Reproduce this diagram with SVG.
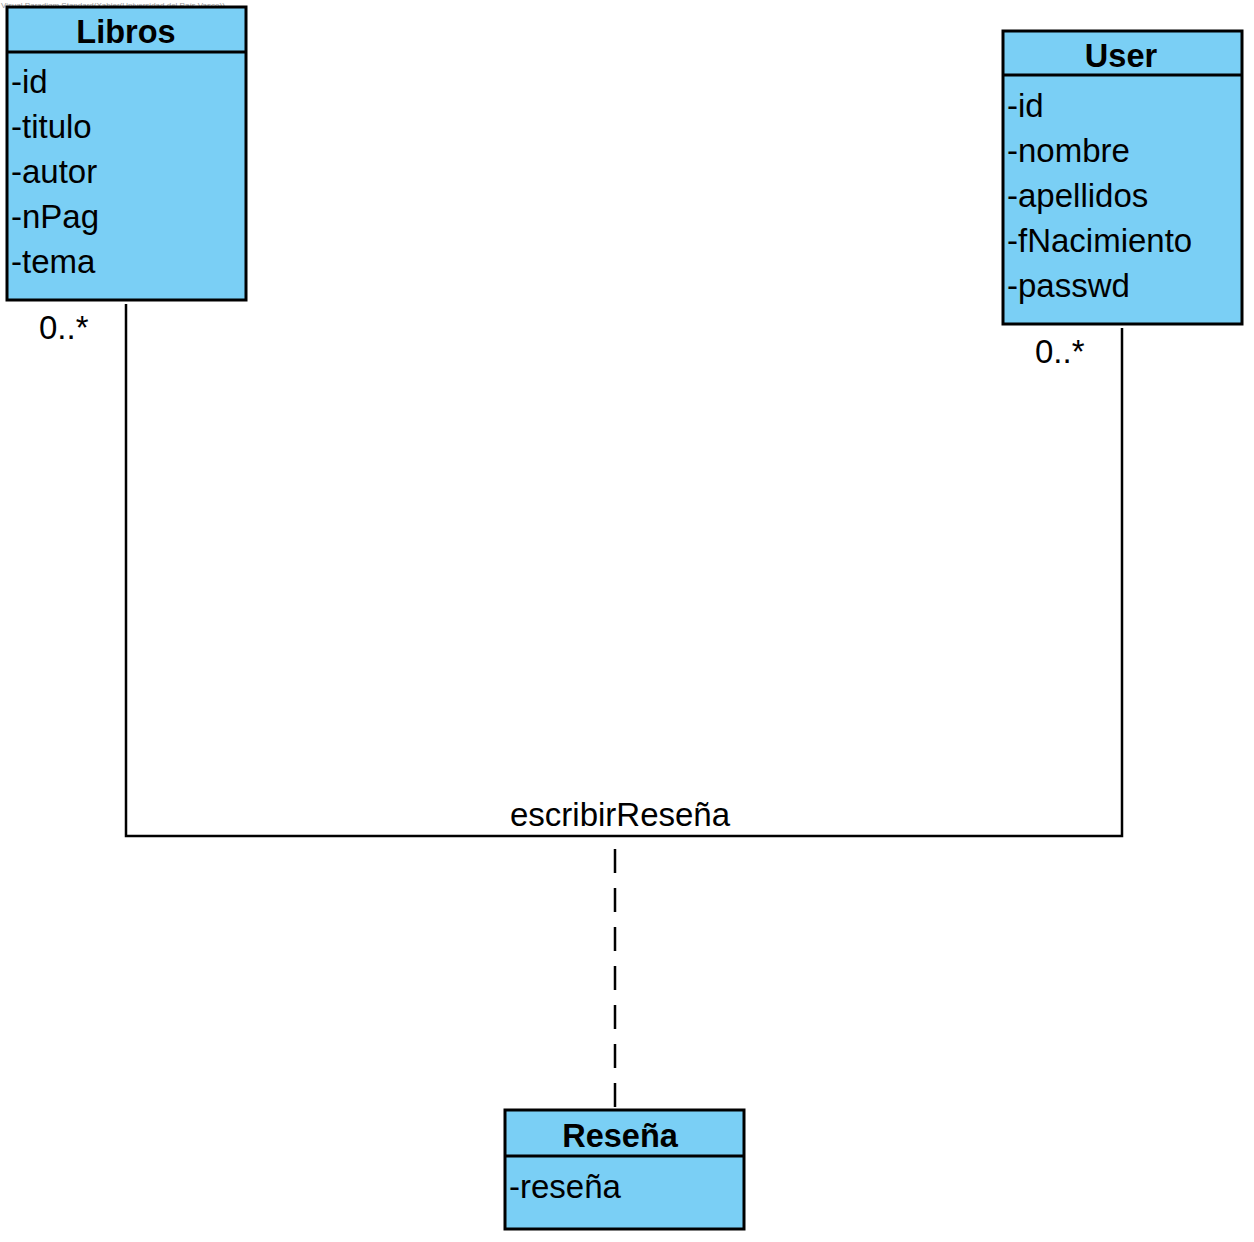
<svg xmlns="http://www.w3.org/2000/svg" width="1254" height="1242" viewBox="0 0 1254 1242">
<style>
.box{fill:#7acff5;stroke:#000;stroke-width:3}
.div{stroke:#000;stroke-width:3}
.t{font-family:"Liberation Sans",Arial,sans-serif;font-size:32.5px;font-weight:bold;text-anchor:middle;fill:#000}
.a{font-family:"Liberation Sans",Arial,sans-serif;font-size:33px;fill:#000}
.conn{fill:none;stroke:#000;stroke-width:2.5}
.wm{font-family:"Liberation Sans",Arial,sans-serif;font-size:8px;fill:#999}
</style>
<rect width="1254" height="1242" fill="#fff"/>
<text class="wm" x="1" y="8">Visual Paradigm Standard(Xabier(Universidad del País Vasco))</text>
<g id="connectors">
<polyline class="conn" points="126,304 126,836 1122,836 1122,328"/>
<line class="conn" x1="615" y1="849" x2="615" y2="1107" stroke-dasharray="24,15"/>
<text class="a" x="39" y="339">0..*</text>
<text class="a" x="1035" y="363">0..*</text>
<text class="a" x="620" y="826" text-anchor="middle">escribirReseña</text>
</g>
<g id="libros">
<rect class="box" x="7" y="7" width="239" height="293"/>
<line class="div" x1="7" y1="52" x2="246" y2="52"/>
<text class="t" x="126" y="43">Libros</text>
<text class="a" x="11" y="93">-id</text>
<text class="a" x="11" y="138">-titulo</text>
<text class="a" x="11" y="183">-autor</text>
<text class="a" x="11" y="228">-nPag</text>
<text class="a" x="11" y="273">-tema</text>
</g>
<g id="user">
<rect class="box" x="1003" y="31" width="239" height="293"/>
<line class="div" x1="1003" y1="75" x2="1242" y2="75"/>
<text class="t" x="1121" y="67">User</text>
<text class="a" x="1007" y="117">-id</text>
<text class="a" x="1007" y="162">-nombre</text>
<text class="a" x="1007" y="207">-apellidos</text>
<text class="a" x="1007" y="252">-fNacimiento</text>
<text class="a" x="1007" y="297">-passwd</text>
</g>
<g id="resena">
<rect class="box" x="505" y="1110" width="239" height="119"/>
<line class="div" x1="505" y1="1156" x2="744" y2="1156"/>
<text class="t" x="620" y="1147">Reseña</text>
<text class="a" x="509" y="1198">-reseña</text>
</g>
</svg>
